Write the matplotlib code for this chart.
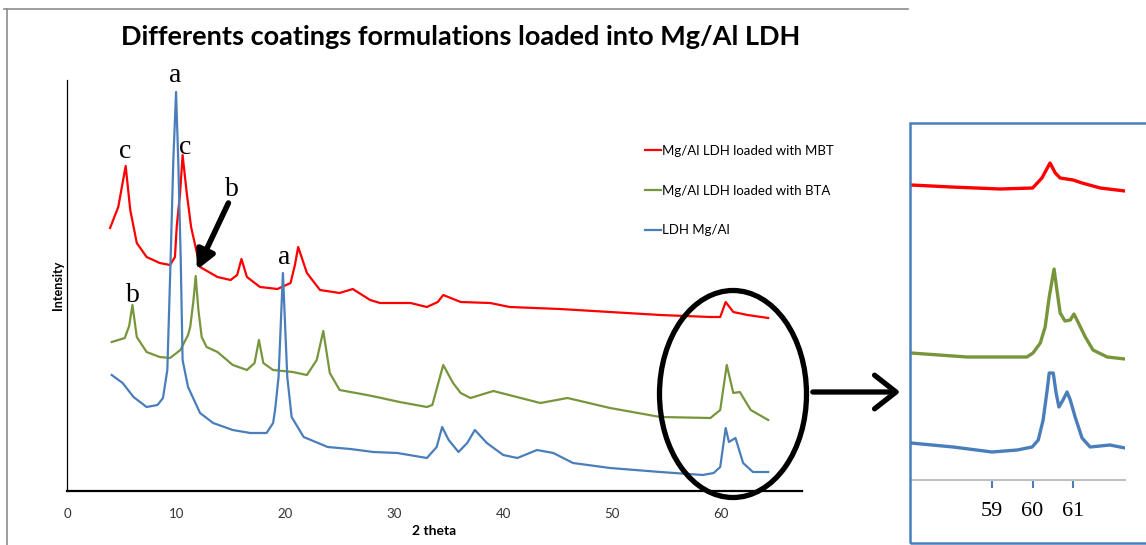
import matplotlib
matplotlib.use('Agg')
import matplotlib.pyplot as plt
from matplotlib.patches import Ellipse, Rectangle, FancyArrowPatch
from matplotlib.lines import Line2D

# diffractogrammes (2 theta, intensite u.a.)
t_mbt = [3.95, 4.7, 5.38, 5.8, 6.4, 7.3, 8.5, 9.45, 9.9, 10.06, 10.37, 10.6, 10.98, 11.38, 12.2,
         13.8, 15.0, 15.6, 16.0, 16.5, 17.7, 19.3, 20.5, 20.9, 21.2, 22.0, 23.2, 25.0, 26.2, 27.8,
         28.7, 31.5, 33.0, 34.0, 34.5, 36.1, 38.8, 40.6, 45.2, 49.8, 54.4, 59.0, 59.9, 60.4, 61.1,
         62.4, 64.3]
i_mbt = [263, 284, 325, 281, 248, 234, 228, 226, 234, 264, 298, 336, 298, 264, 224,
         214, 211, 216, 232, 214, 204, 202, 208, 226, 244, 218, 201, 198, 202, 191,
         188, 188, 184, 189, 196, 189, 188, 184, 182, 179, 176, 174, 174, 189, 179,
         176, 173]

t_bta = [4.1, 5.3, 5.7, 6.0, 6.4, 7.3, 8.5, 9.45, 10.4, 11.1, 11.3, 11.6, 11.8, 12.05, 12.35,
         12.8, 13.8, 15.2, 16.5, 17.2, 17.6, 18.0, 18.9, 20.7, 22.0, 22.9, 23.5, 24.1, 25.0, 27.5,
         28.4, 30.5, 33.0, 33.5, 34.5, 35.4, 36.1, 37.0, 39.1, 43.4, 45.9, 49.8, 54.4, 59.0, 59.9,
         60.5, 61.1, 61.7, 62.7, 64.3]
i_bta = [149, 153, 165, 186, 154, 139, 134, 133, 141, 156, 164, 191, 215, 181, 154,
         144, 139, 126, 121, 128, 151, 128, 121, 119, 116, 131, 160, 118, 101, 96,
         94, 89, 84, 86, 126, 108, 98, 93, 100, 88, 93, 83, 74, 73, 81,
         126, 98, 99, 81, 71]

t_ldh = [4.1, 5.1, 6.1, 7.3, 8.3, 8.8, 9.2, 9.5, 9.75, 10.0, 10.2, 10.43, 10.6, 11.1, 12.2,
         13.4, 15.2, 16.8, 18.3, 18.9, 19.08, 19.4, 19.8, 20.2, 20.6, 21.7, 23.9, 26.0, 28.1, 30.3,
         33.0, 33.9, 34.4, 35.0, 35.9, 36.7, 37.4, 38.5, 40.0, 41.3, 43.1, 44.6, 46.4, 49.8, 54.4,
         58.3, 59.3, 59.9, 60.4, 60.7, 61.3, 62.0, 62.9, 64.3]
i_ldh = [116, 108, 94, 84, 86, 93, 121, 231, 331, 399, 331, 231, 131, 104, 78,
         68, 61, 58, 58, 68, 81, 114, 218, 114, 74, 54, 44, 42, 39, 38,
         33, 44, 64, 51, 39, 48, 61, 48, 36, 33, 41, 38, 28, 23, 19,
         16, 18, 24, 63, 49, 53, 28, 19, 19]

# agrandissement 57-62 degres
tz_mbt = [57.0, 58.0, 59.2, 60.0, 60.23, 60.43, 60.56, 60.68, 61.0, 61.22, 61.67, 62.28]
iz_mbt = [295, 293, 291, 292, 302, 317, 307, 302, 300, 297, 292, 289]
tz_bta = [57.0, 58.38, 59.2, 59.86, 60.01, 60.19, 60.31, 60.41, 60.53, 60.60, 60.68, 60.80,
          60.93, 61.02, 61.12, 61.30, 61.49, 61.84, 62.28]
iz_bta = [127, 123, 123, 123, 127, 137, 153, 183, 211, 190, 167, 159,
          160, 166, 158, 143, 130, 123, 121]
tz_ldh = [57.0, 58.04, 59.0, 59.62, 59.99, 60.14, 60.26, 60.36, 60.41, 60.51, 60.58, 60.65,
          60.75, 60.85, 60.93, 61.05, 61.22, 61.42, 61.91, 62.28]
iz_ldh = [37, 33, 28, 30, 33, 40, 60, 90, 107, 107, 87, 73,
          80, 88, 80, 63, 42, 33, 35, 32]

labels = ['Mg/Al LDH loaded with MBT', 'Mg/Al LDH loaded with BTA', 'LDH Mg/Al']
couleurs = ['#ff0000', '#77963c', '#4a7ebb']
x_ticks = [0, 10, 20, 30, 40, 50, 60]
zoom_ticks = [59, 60, 61]

# lettres des pics : (2 theta, intensite, texte)
pics = [(9.9, 416, 'a'), (5.3, 339, 'c'), (10.8, 344, 'c'), (15.1, 302, 'b'),
        (19.9, 233, 'a'), (6.05, 195, 'b')]

W, H = 1146, 545


def fx(x):
    return x / W


def fy(y):
    return 1 - y / H


fig = plt.figure(figsize=(W / 100, H / 100), dpi=100)

# cadre gris du graphique
fig.add_artist(Line2D([fx(4), fx(908)], [fy(9), fy(9)], color='#8c8c8c', lw=1.2))
fig.add_artist(Line2D([fx(7), fx(7)], [fy(9), fy(548)], color='#8c8c8c', lw=1.2))

ax_l, ax_r = 67, 802
ax = fig.add_axes([fx(ax_l), fy(491), fx(ax_r) - fx(ax_l), fy(80) - fy(491)])
ax.plot(t_mbt, i_mbt, color=couleurs[0], lw=1.6, label=labels[0])
ax.plot(t_bta, i_bta, color=couleurs[1], lw=1.6, label=labels[1])
ax.plot(t_ldh, i_ldh, color=couleurs[2], lw=1.6, label=labels[2])
ax.set_xlim(0, 67.4)
ax.set_ylim(0, 411)
ax.set_yticks([])
ax.set_xticks(x_ticks)
ax.tick_params(axis='x', length=0, pad=12, labelsize=9.5, labelcolor='#333333')
for lab in ax.get_xticklabels():
    lab.set_family('Lato')
ax.spines['top'].set_visible(False)
ax.spines['right'].set_visible(False)
ax.spines['bottom'].set_linewidth(1.6)
ax.spines['left'].set_linewidth(0.9)
ax.set_xlabel('2 theta', family='Lato', weight='bold', fontsize=10, labelpad=4)
ax.set_ylabel('Intensity', family='Lato', weight='bold', fontsize=9, labelpad=2)
ax.legend(loc='upper left', bbox_to_anchor=((640 - ax_l) / (ax_r - ax_l), 0.855),
          frameon=False, prop={'family': 'Lato', 'size': 9.5}, handlelength=1.2,
          handletextpad=0.1, labelspacing=2.1, borderaxespad=0)

for t, i, s in pics:
    ax.text(t, i, s, family='Liberation Serif', fontsize=20, ha='center', va='center')

ax.annotate('', xy=(11.9, 221), xytext=(14.8, 288),
            arrowprops=dict(arrowstyle='-|>', lw=4, color='black', mutation_scale=28,
                            shrinkA=0, shrinkB=0))

fig.add_artist(Ellipse((fx(733), fy(394)), fx(147), 207 / H, fill=False, lw=3.8,
                       edgecolor='black', transform=fig.transFigure))
fig.add_artist(FancyArrowPatch((fx(810), fy(392)), (fx(903), fy(392)),
                               arrowstyle='->,head_length=0.7,head_width=0.55',
                               mutation_scale=22, lw=3.8, color='black',
                               transform=fig.transFigure))

# encadre de l'agrandissement
fig.add_artist(Rectangle((fx(910), fy(543)), fx(260), 420 / H, fill=False,
                         edgecolor='#4a7ebb', lw=1.8, transform=fig.transFigure))

axz = fig.add_axes([fx(911), fy(480), fx(1125) - fx(911), fy(123) - fy(480)])
axz.plot(tz_mbt, iz_mbt, color=couleurs[0], lw=2.4)
axz.plot(tz_bta, iz_bta, color=couleurs[1], lw=2.4)
axz.plot(tz_ldh, iz_ldh, color=couleurs[2], lw=2.4)
axz.set_xlim(57.0, 62.28)
axz.set_ylim(0, 357)
axz.set_yticks([])
axz.set_xticks(zoom_ticks)
axz.tick_params(axis='x', direction='out', length=6, width=1.5, color='#4a7ebb',
                pad=10, labelsize=16)
for lab in axz.get_xticklabels():
    lab.set_family('Liberation Serif')
for s in ['top', 'right', 'left']:
    axz.spines[s].set_visible(False)
axz.spines['bottom'].set_color('#bfbfbf')
axz.spines['bottom'].set_linewidth(1.5)
axz.patch.set_alpha(0)

fig.suptitle('Differents coatings formulations loaded into Mg/Al LDH', x=fx(461), y=fy(37),
             va='center', family='Lato', weight='bold', fontsize=19.5)

fig.savefig('out.png', dpi=100)
